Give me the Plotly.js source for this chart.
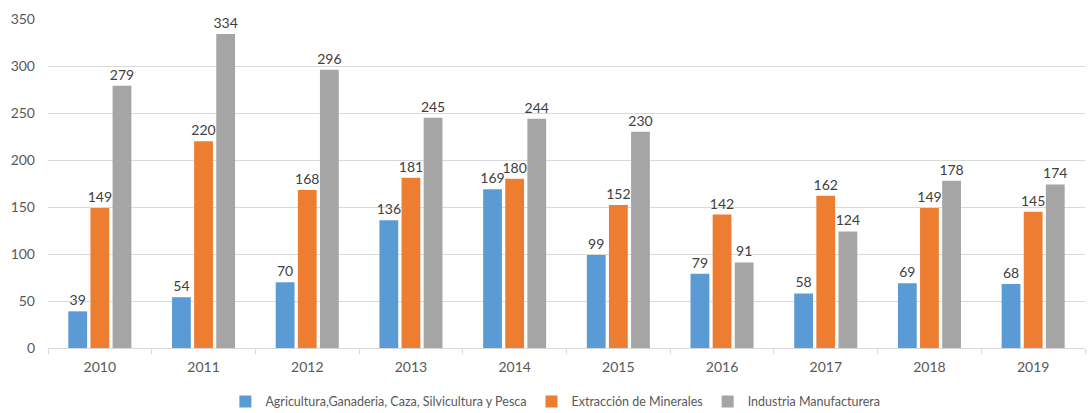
<!DOCTYPE html>
<html>
<head>
<meta charset="utf-8">
<script src="https://cdn.plot.ly/plotly-3.0.1.min.js"></script>
<style>html,body{margin:0;padding:0;background:#fff;}#chart{width:1089px;height:413px;}</style>
</head>
<body>
<div id="chart"></div>
<script>
const years = ["2010","2011","2012","2013","2014","2015","2016","2017","2018","2019"];
const agricultura = [39, 54, 70, 136, 169, 99, 79, 58, 69, 68];
const extraccion = [149, 220, 168, 181, 180, 152, 142, 162, 149, 145];
const industria = [279, 334, 296, 245, 244, 230, 91, 124, 178, 174];
const seriesNames = ["Agricultura,Ganaderia, Caza, Silvicultura y Pesca", "Extracción de Minerales", "Industria Manufacturera"];
const colors = ["#5B9BD5", "#ED7D31", "#A5A5A5"];

const font = "Lato, 'Open Sans', 'Liberation Sans', sans-serif";
const data = [agricultura, extraccion, industria].map((vals, i) => ({
  type: "bar",
  x: years,
  y: vals,
  name: seriesNames[i],
  marker: {color: colors[i]},
  text: vals.map(String),
  textposition: "outside",
  constraintext: "none",
  cliponaxis: false,
  textfont: {family: font, size: 14, color: "#404040"},
  hoverinfo: "x+y+name"
}));

const layout = {
  width: 1089, height: 413,
  margin: {l: 48, r: 4, t: 19, b: 65, autoexpand: false},
  paper_bgcolor: "#fff", plot_bgcolor: "#fff",
  barmode: "group",
  bargap: 0.36,
  bargroupgap: 0.15,
  font: {family: font, color: "#595959", size: 13},
  xaxis: {
    type: "category",
    tickson: "boundaries",
    ticks: "outside", ticklen: 5, tickcolor: "#D9D9D9",
    showline: true, linecolor: "#D9D9D9", linewidth: 1,
    showgrid: false,
    automargin: false,
    ticklabelstandoff: 6,
    tickfont: {family: font, size: 14, color: "#595959"}
  },
  yaxis: {
    range: [0, 350],
    dtick: 50,
    showgrid: true, gridcolor: "#D9D9D9", gridwidth: 1,
    zeroline: false,
    showline: false,
    ticks: "",
    automargin: false,
    ticklabelstandoff: 12,
    tickfont: {family: font, size: 14, color: "#595959"}
  },
  legend: {
    orientation: "h",
    x: 0.51, xanchor: "center", xref: "container",
    y: 0.027, yanchor: "middle", yref: "container",
    font: {family: font, size: 12.5, color: "#595959"},
    itemwidth: 30,
    traceorder: "normal"
  },
  showlegend: true
};

Plotly.newPlot("chart", data, layout, {displayModeBar: false, staticPlot: true});
</script>
</body>
</html>
